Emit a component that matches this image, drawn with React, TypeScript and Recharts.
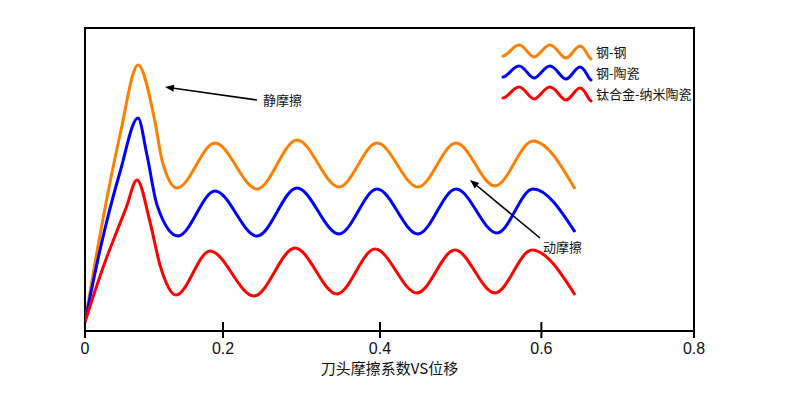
import React from "react";
import {
  LineChart,
  Line,
  XAxis,
  YAxis,
  Legend,
  ReferenceArea,
  ReferenceLine,
} from "recharts";

// displacement (x) / friction coefficient (y, arbitrary units)
const steelSteelX = [0, 0.0197, 0.046, 0.0696, 0.092, 0.1011, 0.1209, 0.1708, 0.226, 0.2785, 0.3337, 0.3836, 0.4374, 0.4874, 0.5386, 0.5885, 0.6437];
const steelSteelY = [9, 96, 196, 266, 209, 171, 143, 188, 142, 191, 144, 188, 144, 188, 145, 190, 142];

const steelCeramicX = [0, 0.0197, 0.046, 0.0696, 0.0814, 0.0946, 0.1222, 0.1708, 0.226, 0.2785, 0.3337, 0.3836, 0.4374, 0.4874, 0.5412, 0.5885, 0.6437];
const steelCeramicY = [9, 81, 159, 213, 176, 126, 95, 140, 95, 143, 97, 142, 97, 142, 98, 142, 99];

const tiNanoX = [0, 0.0131, 0.0263, 0.0394, 0.0539, 0.0683, 0.0854, 0.0985, 0.1195, 0.1642, 0.222, 0.2759, 0.331, 0.381, 0.4361, 0.486, 0.5386, 0.5872, 0.6437];
const tiNanoY = [9, 40, 69, 95, 123, 151, 109, 66, 36, 80, 35, 83, 37, 82, 38, 81, 38, 81, 36];

const seriesNames = ["钢-钢", "钢-陶瓷", "钛合金-纳米陶瓷"];
const seriesColors = ["#ff8000", "#0000ff", "#ff0000"];

// the original axis ticks are not evenly spaced
const tickPositions = [0, 0.1813, 0.3875, 0.5995, 0.8];
const tickLabels = ["0", "0.2", "0.4", "0.6", "0.8"];

const xTitle = "刀头摩擦系数VS位移";
const staticLabel = "静摩擦";
const dynamicLabel = "动摩擦";

const zip = (xs: number[], ys: number[]) => xs.map((x, i) => ({ x, y: ys[i] }));

const seriesData = [
  zip(steelSteelX, steelSteelY),
  zip(steelCeramicX, steelCeramicY),
  zip(tiNanoX, tiNanoY),
];

const cjk = '"Noto Sans CJK SC", "Noto Sans", sans-serif';

const Tick = (props: any) => {
  const { x, y, payload } = props;
  const idx = tickPositions.indexOf(payload.value);
  return (
    <g>
      <line x1={x} x2={x} y1={y - 9} y2={y + 7} stroke="#000" strokeWidth={2} />
      <text
        x={x}
        y={y + 23}
        textAnchor="middle"
        fontSize={16}
        fontFamily='"Liberation Sans", Arial, sans-serif'
        fill="#111"
      >
        {tickLabels[idx]}
      </text>
    </g>
  );
};

const arrowShape = (label: string, dx: number, dy: number) => (props: any) => {
  const { x1, y1, x2, y2 } = props;
  // x1,y1 = tail ; x2,y2 = head
  const ang = Math.atan2(y2 - y1, x2 - x1);
  const len = 9;
  const w = 3.5;
  const bx = x2 - len * Math.cos(ang);
  const by = y2 - len * Math.sin(ang);
  const p1 = `${bx + w * Math.sin(ang)},${by - w * Math.cos(ang)}`;
  const p2 = `${bx - w * Math.sin(ang)},${by + w * Math.cos(ang)}`;
  return (
    <g>
      <line x1={x1} y1={y1} x2={bx} y2={by} stroke="#000" strokeWidth={1.6} />
      <polygon points={`${x2},${y2} ${p1} ${p2}`} fill="#000" />
      <text x={x1 + dx} y={y1 + dy} fontSize={13} fontFamily={cjk} fill="#111">
        {label}
      </text>
    </g>
  );
};

const WaveIcon = ({ color }: { color: string }) => (
  <svg width={92} height={18} style={{ display: "block" }}>
    <path
      d="M2,13 C7,13 12,2 18,2 S28,14 33,14 S43,2 49,2 S60,15 65,15 S74,3 79,3 S87,15 90,16"
      fill="none"
      stroke={color}
      strokeWidth={3}
      strokeLinecap="round"
    />
  </svg>
);

const LegendContent = () => (
  <div style={{ fontFamily: cjk, fontSize: 13, color: "#111" }}>
    {seriesNames.map((name, i) => (
      <div
        key={name}
        style={{ display: "flex", alignItems: "center", height: 21 }}
      >
        <WaveIcon color={seriesColors[i]} />
        <span style={{ marginLeft: 3 }}>{name}</span>
      </div>
    ))}
  </div>
);

export default function App() {
  return (
    <div style={{ position: "absolute", left: 0, top: 0, width: 790, height: 396, background: "#fff" }}>
      <LineChart
        width={790}
        height={396}
        margin={{ top: 28, right: 96, bottom: 25, left: 85 }}
      >
        <XAxis
          dataKey="x"
          type="number"
          domain={[0, 0.8]}
          ticks={tickPositions}
          tick={<Tick />}
          tickLine={false}
          tickSize={0}
          tickMargin={0}
          height={40}
          interval={0}
          axisLine={{ stroke: "#000", strokeWidth: 2 }}
          allowDataOverflow
          label={{
            value: xTitle,
            position: "insideBottom",
            offset: -3,
            style: { fontFamily: cjk, fontSize: 15, fill: "#111" },
          }}
        />
        <YAxis type="number" domain={[0, 303]} hide allowDataOverflow />
        <ReferenceArea
          x1={0}
          x2={0.8}
          y1={0}
          y2={303}
          fill="none"
          stroke="#000"
          strokeWidth={2}
          ifOverflow="visible"
        />
        {seriesData.map((d, i) => (
          <Line
            key={seriesNames[i]}
            data={d}
            dataKey="y"
            name={seriesNames[i]}
            type="monotone"
            stroke={seriesColors[i]}
            strokeWidth={3}
            dot={false}
            activeDot={false}
            isAnimationActive={false}
          />
        ))}
        <ReferenceLine
          segment={[
            { x: 0.2259, y: 231 },
            { x: 0.1051, y: 244 },
          ]}
          ifOverflow="visible"
          shape={arrowShape(staticLabel, 6, 5)}
        />
        <ReferenceLine
          segment={[
            { x: 0.5977, y: 93 },
            { x: 0.5058, y: 151 },
          ]}
          ifOverflow="visible"
          shape={arrowShape(dynamicLabel, 3, 14)}
        />
        <Legend
          layout="horizontal"
          verticalAlign="middle"
          align="center"
          content={<LegendContent />}
          wrapperStyle={{ position: "absolute", left: 501, top: 41, width: 200 }}
        />
      </LineChart>
    </div>
  );
}
